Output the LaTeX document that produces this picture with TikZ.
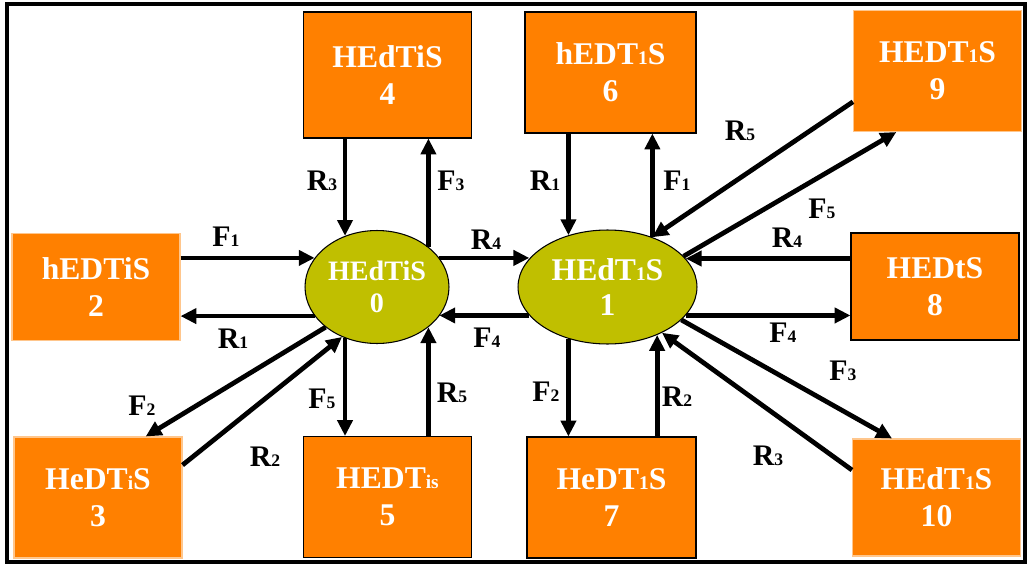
\documentclass[tikz,border=0pt]{standalone}
\usepackage{fontspec}
\setmainfont{Liberation Serif}
\usetikzlibrary{shapes.geometric,arrows.meta}
\definecolor{boxorange}{RGB}{255,128,0}
\definecolor{stateolive}{RGB}{192,191,0}
\newcommand{\sm}[1]{{\fontsize{11}{11}\selectfont #1}}
\newcommand{\rl}[2]{#1{\fontsize{10}{10}\selectfont #2}}

\begin{document}
\begin{tikzpicture}[x=0.02cm,y=-0.02cm]
	\tikzstyle{statebox} = [rectangle, draw, line width=0.6pt, fill=boxorange, text=white, align=center, inner sep=0pt, minimum width=3.36cm, minimum height=2.42cm, font=\fontsize{18}{21}\selectfont\bfseries]
	\tikzstyle{paleb} = [statebox, draw=boxorange!45!white]
	\tikzstyle{core} = [ellipse, draw, line width=0.6pt, fill=stateolive, text=white, align=center, inner sep=0pt]
	\tikzstyle{arr} = [line width=2.7pt, -{Triangle[length=9pt,width=8.5pt]}]
	\tikzstyle{ratelabel} = [font=\fontsize{17}{17}\selectfont\bfseries]
	\useasboundingbox (0,0) rectangle (1029,565);
	\draw[line width=2.2pt] (7,4) rectangle (1025,562);
	% the two central states
	\node[core, minimum width=2.88cm, minimum height=2.26cm, font=\fontsize{16}{18}\selectfont\bfseries] (S0) at (377,287) {HEdTiS\\0};
	\node[core, minimum width=3.58cm, minimum height=2.28cm, font=\fontsize{18}{20}\selectfont\bfseries] (S1) at (607.5,287) {HEdT\sm{1}S\\1};
	% outer states
	\node[paleb, minimum height=2.14cm] (B2) at (96,287) {hEDTiS\\2};
	\node[paleb] (B3) at (98,497.5) {HeDT\sm{i}S\\3};
	\node[statebox, minimum height=2.52cm] (B4) at (387.5,75) {HEdTiS\\4};
	\node[statebox] (B5) at (387.5,497) {HEDT\sm{is}\\5};
	\node[statebox, minimum width=3.42cm] (B6) at (610.5,72.5) {hEDT\sm{1}S\\6};
	\node[statebox, minimum width=3.38cm] (B7) at (611.5,497.5) {HeDT\sm{1}S\\7};
	\node[statebox, minimum height=2.14cm] (B8) at (935,286.5) {HEDtS\\8};
	\node[paleb] (B9) at (937.5,71) {HEDT\sm{1}S\\9};
	\node[paleb, minimum height=2.34cm] (B10) at (936.5,497.5) {HEdT\sm{1}S\\10};
	% transitions around state 0
	\draw[arr] (S0.122 |- B4.south) -- (S0.122);
	\draw[arr] (S0.38) -- (S0.38 |- B4.south);
	\draw[arr] (S0.-122) -- (S0.-122 |- B5.north);
	\draw[arr] (S0.-38 |- B5.north) -- (S0.-38);
	\draw[arr] (S0.155 -| B2.east) -- (S0.155);
	\draw[arr] (S0.205) -- (S0.205 -| B2.east);
	\draw[arr] (S0.218) -- (B3.52);
	\draw[arr] (B3.21) -- (S0.235);
	\draw[arr] (S0.25) -- (S0.25 -| S1.160);
	\draw[arr] (S1.200) -- (S1.200 -| S0.-25);
	% transitions around state 1
	\draw[arr] (S1.127 |- B6.south) -- (S1.127);
	\draw[arr] (S1.48) -- (S1.48 |- B6.south);
	\draw[arr] (S1.-127) -- (S1.-127 |- B7.north);
	\draw[arr] (S1.-44 |- B7.north) -- (S1.-44);
	\draw[arr] (B9.200) -- (S1.48);
	\draw[arr] (S1.22) -- (B9.236);
	\draw[arr] (S1.20 -| B8.west) -- (S1.20);
	\draw[arr] (S1.-20) -- (S1.-20 -| B8.west);
	\draw[arr] (S1.-24) -- (B10.127);
	\draw[arr] (B10.162) -- (S1.-40);
	% rates
	\node[ratelabel] (r3a) at (322,181) {\rl{R}{3}};
	\node[ratelabel] (f3a) at (451,181) {\rl{F}{3}};
	\node[ratelabel] (f1a) at (226,237) {\rl{F}{1}};
	\node[ratelabel] (r1a) at (233,339) {\rl{R}{1}};
	\node[ratelabel] (f2a) at (142,406) {\rl{F}{2}};
	\node[ratelabel] (r2a) at (265,457) {\rl{R}{2}};
	\node[ratelabel] (f5a) at (322,399) {\rl{F}{5}};
	\node[ratelabel] (r5a) at (452,393) {\rl{R}{5}};
	\node[ratelabel] (r4a) at (486,240) {\rl{R}{4}};
	\node[ratelabel] (f4a) at (487,338) {\rl{F}{4}};
	\node[ratelabel] (r1b) at (545,181) {\rl{R}{1}};
	\node[ratelabel] (f1b) at (677,181) {\rl{F}{1}};
	\node[ratelabel] (f2b) at (546,392) {\rl{F}{2}};
	\node[ratelabel] (r2b) at (677,397) {\rl{R}{2}};
	\node[ratelabel] (r5b) at (740,131) {\rl{R}{5}};
	\node[ratelabel] (f5b) at (822,209) {\rl{F}{5}};
	\node[ratelabel] (r4b) at (787,238) {\rl{R}{4}};
	\node[ratelabel] (f4b) at (783,333) {\rl{F}{4}};
	\node[ratelabel] (f3b) at (843,371) {\rl{F}{3}};
	\node[ratelabel] (r3b) at (768,456) {\rl{R}{3}};
\end{tikzpicture}
\end{document}
